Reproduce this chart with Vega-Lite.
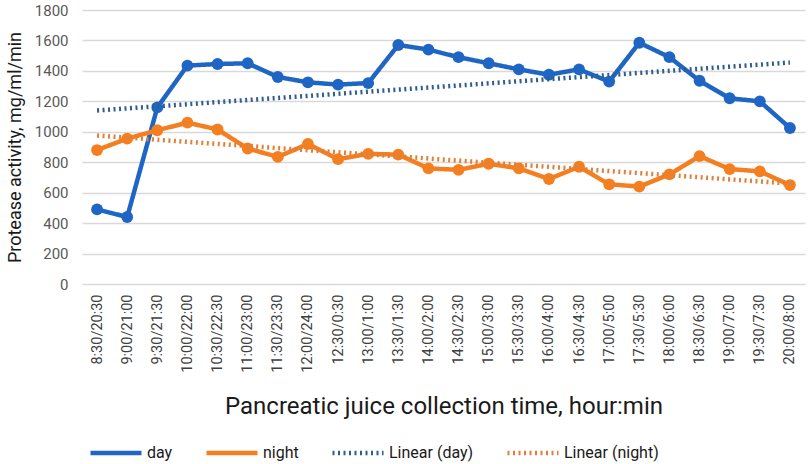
{
  "$schema": "https://vega.github.io/schema/vega-lite/v6.json",
  "autosize": {"type": "none"},
  "padding": {"left": 82, "top": 10, "right": 4, "bottom": 180},
  "width": 723,
  "height": 274,
  "background": "white",
  "config": {
    "font": "Roboto",
    "view": {"stroke": null},
    "axis": {"labelFont": "Roboto", "titleFont": "Roboto", "titleFontWeight": "normal"}
  },
  "data": {
    "values": [
      {"time": "8:30/20:30", "series": "day", "value": 490},
      {"time": "9:00/21:00", "series": "day", "value": 440},
      {"time": "9:30/21:30", "series": "day", "value": 1160},
      {"time": "10:00/22:00", "series": "day", "value": 1435},
      {"time": "10:30/22:30", "series": "day", "value": 1445},
      {"time": "11:00/23:00", "series": "day", "value": 1450},
      {"time": "11:30/23:30", "series": "day", "value": 1360},
      {"time": "12:00/24:00", "series": "day", "value": 1325},
      {"time": "12:30/0:30", "series": "day", "value": 1310},
      {"time": "13:00/1:00", "series": "day", "value": 1320},
      {"time": "13:30/1:30", "series": "day", "value": 1570},
      {"time": "14:00/2:00", "series": "day", "value": 1540},
      {"time": "14:30/2:30", "series": "day", "value": 1490},
      {"time": "15:00/3:00", "series": "day", "value": 1450},
      {"time": "15:30/3:30", "series": "day", "value": 1410},
      {"time": "16:00/4:00", "series": "day", "value": 1375},
      {"time": "16:30/4:30", "series": "day", "value": 1410},
      {"time": "17:00/5:00", "series": "day", "value": 1330},
      {"time": "17:30/5:30", "series": "day", "value": 1585},
      {"time": "18:00/6:00", "series": "day", "value": 1490},
      {"time": "18:30/6:30", "series": "day", "value": 1335},
      {"time": "19:00/7:00", "series": "day", "value": 1220},
      {"time": "19:30/7:30", "series": "day", "value": 1200},
      {"time": "20:00/8:00", "series": "day", "value": 1025},
      {"time": "8:30/20:30", "series": "night", "value": 880},
      {"time": "9:00/21:00", "series": "night", "value": 955},
      {"time": "9:30/21:30", "series": "night", "value": 1010},
      {"time": "10:00/22:00", "series": "night", "value": 1060},
      {"time": "10:30/22:30", "series": "night", "value": 1015},
      {"time": "11:00/23:00", "series": "night", "value": 890},
      {"time": "11:30/23:30", "series": "night", "value": 835},
      {"time": "12:00/24:00", "series": "night", "value": 920},
      {"time": "12:30/0:30", "series": "night", "value": 820},
      {"time": "13:00/1:00", "series": "night", "value": 855},
      {"time": "13:30/1:30", "series": "night", "value": 850},
      {"time": "14:00/2:00", "series": "night", "value": 760},
      {"time": "14:30/2:30", "series": "night", "value": 750},
      {"time": "15:00/3:00", "series": "night", "value": 790},
      {"time": "15:30/3:30", "series": "night", "value": 760},
      {"time": "16:00/4:00", "series": "night", "value": 690},
      {"time": "16:30/4:30", "series": "night", "value": 770},
      {"time": "17:00/5:00", "series": "night", "value": 655},
      {"time": "17:30/5:30", "series": "night", "value": 640},
      {"time": "18:00/6:00", "series": "night", "value": 720},
      {"time": "18:30/6:30", "series": "night", "value": 840},
      {"time": "19:00/7:00", "series": "night", "value": 755},
      {"time": "19:30/7:30", "series": "night", "value": 740},
      {"time": "20:00/8:00", "series": "night", "value": 650},
      {"time": "8:30/20:30", "series": "Linear (day)", "value": 1140},
      {"time": "20:00/8:00", "series": "Linear (day)", "value": 1455},
      {"time": "8:30/20:30", "series": "Linear (night)", "value": 975},
      {"time": "20:00/8:00", "series": "Linear (night)", "value": 660}
    ]
  },
  "encoding": {
    "x": {
      "field": "time",
      "type": "ordinal",
      "sort": null,
      "scale": {"paddingInner": 0, "paddingOuter": 0.5},
      "axis": {
        "title": "Pancreatic juice collection time, hour:min",
        "titleFontSize": 24,
        "titleColor": "#1a1a1a",
        "titlePadding": 22,
        "labelAngle": -90,
        "labelFontSize": 14.5,
        "labelColor": "#404040",
        "labelPadding": 10,
        "ticks": false,
        "domain": false,
        "grid": false
      }
    },
    "y": {
      "field": "value",
      "type": "quantitative",
      "scale": {"domain": [0, 1800], "nice": false},
      "axis": {
        "title": "Protease activity, mg/ml/min",
        "titleFontSize": 18,
        "titleColor": "#1a1a1a",
        "titlePadding": 10,
        "values": [0, 200, 400, 600, 800, 1000, 1200, 1400, 1600, 1800],
        "format": "d",
        "labelFontSize": 15,
        "labelColor": "#595959",
        "labelPadding": 14,
        "ticks": false,
        "domain": false,
        "grid": true,
        "gridColor": "#d9d9d9",
        "gridWidth": 1.5
      }
    },
    "color": {
      "field": "series",
      "type": "nominal",
      "scale": {
        "domain": ["day", "night", "Linear (day)", "Linear (night)"],
        "range": ["#1f66c4", "#f47f20", "#2f5d8c", "#e07f3a"]
      },
      "legend": {
        "title": null,
        "orient": "none",
        "legendX": 6,
        "legendY": 415,
        "direction": "horizontal",
        "columns": 4,
        "columnPadding": 24,
        "symbolType": "stroke",
        "symbolSize": 2600,
        "labelFontSize": 16,
        "labelColor": "#1a1a1a",
        "labelOffset": 3
      }
    },
    "strokeDash": {
      "field": "series",
      "type": "nominal",
      "scale": {
        "domain": ["day", "night", "Linear (day)", "Linear (night)"],
        "range": [[1, 0], [1, 0], [2, 3.5], [2, 3.5]]
      },
      "legend": null
    },
    "strokeWidth": {
      "field": "series",
      "type": "nominal",
      "scale": {
        "domain": ["day", "night", "Linear (day)", "Linear (night)"],
        "range": [4.5, 4.5, 2.2, 2.2]
      },
      "legend": null
    }
  },
  "layer": [
    {
      "transform": [{"filter": "datum.series === 'day' || datum.series === 'night'"}],
      "mark": {"type": "line", "strokeJoin": "round"}
    },
    {
      "transform": [{"filter": "datum.series === 'day' || datum.series === 'night'"}],
      "mark": {"type": "point", "filled": true, "size": 140, "opacity": 1},
      "encoding": {"strokeDash": null, "strokeWidth": null, "color": {"field": "series", "type": "nominal", "legend": null}}
    },
    {
      "transform": [{"filter": "datum.series === 'Linear (day)' || datum.series === 'Linear (night)'"}],
      "mark": {"type": "line", "strokeCap": "butt"}
    }
  ]
}
